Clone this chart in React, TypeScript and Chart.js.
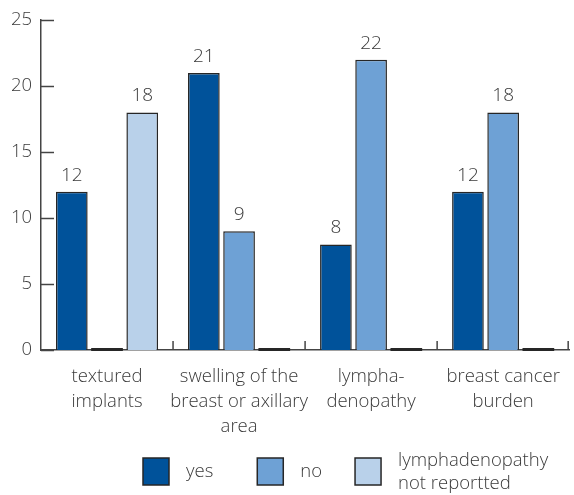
import React, { useEffect, useRef } from "react";
import { Chart, registerables } from "chart.js";

Chart.register(...registerables);

const categories: string[][] = [
  ["textured", "implants"],
  ["swelling of the", "breast or axillary", "area"],
  ["lympha-", "denopathy"],
  ["breast cancer", "burden"],
];
const yesValues = [12, 21, 8, 12];
const noValues = [0, 9, 22, 18];
const notReportedValues = [18, 0, 0, 0];
const seriesNames: (string | string[])[] = ["yes", "no", ["lymphadenopathy", "not reportted"]];
const seriesColors = ["#00529a", "#6ea1d5", "#b9d1ea"];
const yTickValues = [0, 5, 10, 15, 20, 25];

const FONT = "'Open Sans', 'Noto Sans', sans-serif";
const WEIGHT = "300";
const SIZE = 18.5;
const TEXT = "#3a3a3a";
const EDGE = "#262626";

const decorPlugin = {
  id: "decor",
  afterDatasetsDraw(chart: any) {
    const ctx = chart.ctx;
    const { chartArea } = chart;
    const x = chart.scales.x;
    const y = chart.scales.y;
    ctx.save();
    chart.data.datasets.forEach((ds: any, di: number) => {
      const meta = chart.getDatasetMeta(di);
      meta.data.forEach((bar: any, i: number) => {
        const v = ds.data[i];
        const { x: bx, y: by, base, width } = bar.getProps(["x", "y", "base", "width"], true);
        if (v === 0) {
          ctx.fillStyle = EDGE;
          ctx.fillRect(bx - width / 2, base - 2, width, 3);
        } else {
          ctx.fillStyle = TEXT;
          ctx.font = `${WEIGHT} 19px ${FONT}`;
          ctx.textAlign = "center";
          ctx.textBaseline = "alphabetic";
          ctx.fillText(String(v), bx, by - 11);
        }
      });
    });
    ctx.strokeStyle = "#444";
    ctx.lineWidth = 1.5;
    yTickValues.forEach((v) => {
      const py = Math.round(y.getPixelForValue(v)) + 0.5;
      ctx.beginPath();
      ctx.moveTo(chartArea.left, py);
      ctx.lineTo(chartArea.left + 13, py);
      ctx.stroke();
    });
    const n = categories.length;
    for (let i = 0; i < n; i++) {
      const px =
        i < n - 1
          ? (x.getPixelForValue(i) + x.getPixelForValue(i + 1)) / 2
          : chartArea.right - 1;
      ctx.beginPath();
      ctx.moveTo(px, chartArea.bottom);
      ctx.lineTo(px, chartArea.bottom - 9);
      ctx.stroke();
    }
    ctx.restore();
  },
  afterDraw(chart: any) {
    const ctx = chart.ctx;
    ctx.save();
    ctx.font = `${WEIGHT} ${SIZE}px ${FONT}`;
    ctx.textBaseline = "middle";
    ctx.textAlign = "left";
    let cx = 143;
    const cy = 471;
    const box = 26;
    const gaps = [44, 33, 0];
    chart.data.datasets.forEach((ds: any, di: number) => {
      ctx.fillStyle = ds.backgroundColor;
      ctx.fillRect(cx, cy - box / 2, box, box + 1);
      ctx.strokeStyle = EDGE;
      ctx.lineWidth = 1.5;
      ctx.strokeRect(cx, cy - box / 2, box, box + 1);
      const name = seriesNames[di];
      const lines = Array.isArray(name) ? name : [name];
      ctx.fillStyle = TEXT;
      const tx = cx + box + 17;
      const lh = 23;
      let w = 0;
      lines.forEach((ln, li) => {
        const ly = cy + 1 + (li - (lines.length - 1) / 2) * lh;
        ctx.fillText(ln, tx, ly);
        w = Math.max(w, ctx.measureText(ln).width);
      });
      cx = tx + w + gaps[di];
    });
    ctx.restore();
  },
};

export default function App() {
  const ref = useRef<HTMLCanvasElement | null>(null);
  useEffect(() => {
    document.body.style.margin = "0";
    const canvas = ref.current;
    if (!canvas) return;
    const chart = new Chart(canvas, {
      type: "bar",
      data: {
        labels: categories,
        datasets: [yesValues, noValues, notReportedValues].map((d, i) => ({
          label: Array.isArray(seriesNames[i]) ? (seriesNames[i] as string[]).join(" ") : (seriesNames[i] as string),
          data: d,
          backgroundColor: seriesColors[i],
          borderColor: EDGE,
          borderWidth: 1.5,
          categoryPercentage: 0.8,
          barPercentage: 0.9,
        })),
      },
      options: {
        responsive: false,
        animation: false,
        devicePixelRatio: 1,
        layout: { padding: { top: 19, right: 1, left: 0, bottom: 0 } },
        plugins: {
          legend: { display: false },
          tooltip: { enabled: false },
        },
        scales: {
          x: {
            grid: { display: false, drawTicks: false },
            border: { display: true, color: "#444", width: 1.5 },
            ticks: {
              color: TEXT,
              font: { family: FONT, size: SIZE, weight: WEIGHT, lineHeight: 1.35 },
              padding: 14,
              maxRotation: 0,
              autoSkip: false,
            },
            afterFit: (s: any) => {
              s.height = 145;
            },
          },
          y: {
            min: 0,
            max: 25,
            grid: { display: false, drawTicks: false },
            border: { display: true, color: "#444", width: 1.5 },
            ticks: {
              stepSize: 5,
              color: TEXT,
              font: { family: FONT, size: SIZE, weight: WEIGHT },
              padding: 9,
            },
            afterFit: (s: any) => {
              s.width = 41;
            },
          },
        },
      },
      plugins: [decorPlugin],
    });
    return () => chart.destroy();
  }, []);
  return <canvas ref={ref} width={574} height={495} style={{ display: "block" }} />;
}
